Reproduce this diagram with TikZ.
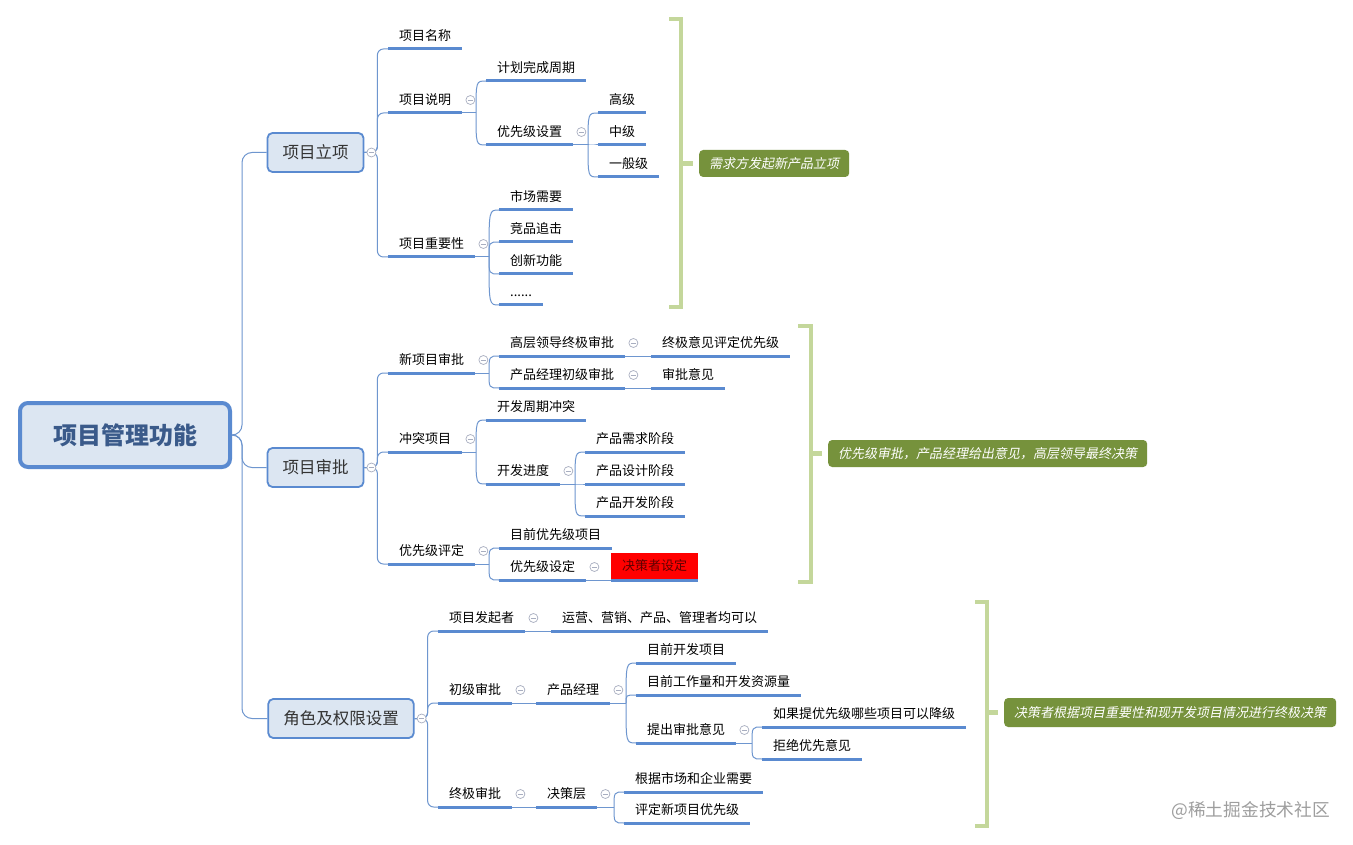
\documentclass[tikz,border=0pt]{standalone}
\usepackage{fontspec}
\setmainfont{Noto Sans CJK SC}
\newfontfamily\itcjk{Noto Sans CJK SC}[FakeSlant=0.2]
\usetikzlibrary{calc}
\definecolor{ublue}{HTML}{5A8AD0}
\definecolor{cline}{HTML}{6E96CF}
\definecolor{boxfill}{HTML}{DCE6F2}
\definecolor{boxdraw}{HTML}{5A8AD0}
\definecolor{roottext}{HTML}{3A5A8A}
\definecolor{brk}{HTML}{C4D79B}
\definecolor{callfill}{HTML}{76923C}
\definecolor{colgray}{HTML}{A8AEC0}
\definecolor{darkred}{HTML}{600000}
\newcommand\kids[3]{%
  \coordinate (j#1) at (#2,0 |- #1.south east);
  \draw[conn] (#1.south east) -- (j#1);
  \foreach \c in {#3} \draw[conn] (j#1) .. controls (j#1 |- \c.south west) .. (\c.south west);
}
\tikzset{
  topic/.style={anchor=south west, inner xsep=11pt, inner ysep=5pt, text height=10pt, text depth=3.5pt, font=\fontsize{13}{15}\selectfont, text=black},
  uline/.style={line width=3pt, ublue},
  conn/.style={cline, line width=1pt},
  lvl1/.style={draw=boxdraw, line width=1.8pt, fill=boxfill, rounded corners=5pt, minimum height=39pt, inner xsep=15pt, font=\fontsize{16.5}{18}\selectfont, text=black!80},
  rootbox/.style={draw=boxdraw, line width=4pt, fill=boxfill, rounded corners=8pt, minimum width=210pt, minimum height=64pt, font=\fontsize{24}{28}\selectfont\bfseries, text=roottext},
  collapse/.style={circle, draw=colgray, fill=white, line width=0.7pt, minimum size=9pt, inner sep=0pt, path picture={\draw[colgray, line width=0.7pt] ([xshift=-2.5pt]path picture bounding box.center) -- ([xshift=2.5pt]path picture bounding box.center);}},
  callout/.style={fill=callfill, rounded corners=4pt, text=white, font=\fontsize{13}{15}\selectfont\itcjk, inner xsep=10pt, minimum height=27pt, anchor=west},
  bracket/.style={brk, line width=4.5pt}
}
\begin{document}
\begin{tikzpicture}[x=1pt,y=-1pt]
\useasboundingbox[fill=white] (0,0) rectangle (1353,845);
% main nodes
\node[rootbox] (root) at (125,435) {项目管理功能};
\node[lvl1] (L1) at (315.5,152.5) {项目立项};
\node[lvl1] (L2) at (315.5,467.5) {项目审批};
\node[lvl1] (L3) at (341,718.5) {角色及权限设置};
% branch 1
\node[topic] (A1) at (388,49) {项目名称};
\node[topic] (A2) at (388,113) {项目说明};
\node[topic] (A21) at (486,81) {计划完成周期};
\node[topic] (A22) at (486,145) {优先级设置};
\node[topic] (A221) at (598,113) {高级};
\node[topic] (A222) at (598,145) {中级};
\node[topic] (A223) at (598,177) {一般级};
\node[topic] (A3) at (388,257) {项目重要性};
\node[topic] (A31) at (499,210) {市场需要};
\node[topic] (A32) at (499,242) {竞品追击};
\node[topic] (A33) at (499,274) {创新功能};
\node[topic] (A34) at (499,305) {......};
% branch 2
\node[topic] (B1) at (388,373) {新项目审批};
\node[topic] (B11) at (499,356) {高层领导终极审批};
\node[topic] (B111) at (651,356) {终极意见评定优先级};
\node[topic] (B12) at (499,388) {产品经理初级审批};
\node[topic] (B121) at (651,388) {审批意见};
\node[topic] (B2) at (388,452) {冲突项目};
\node[topic] (B21) at (486,420) {开发周期冲突};
\node[topic] (B22) at (486,484) {开发进度};
\node[topic] (B221) at (585,452) {产品需求阶段};
\node[topic] (B222) at (585,484) {产品设计阶段};
\node[topic] (B223) at (585,516) {产品开发阶段};
\node[topic] (B3) at (388,564) {优先级评定};
\node[topic] (B31) at (499,548) {目前优先级项目};
\node[topic] (B32) at (499,580) {优先级设定};
\node[topic, fill=red, text=darkred, minimum height=27pt, text height=11pt, text depth=2.5pt] (B321) at (611,580) {决策者设定};
% branch 3
\node[topic] (C1) at (438,631) {项目发起者};
\node[topic] (C11) at (551,631) {运营、营销、产品、管理者均可以};
\node[topic] (C2) at (438,703) {初级审批};
\node[topic] (C21) at (536,703) {产品经理};
\node[topic] (C211) at (636,663) {目前开发项目};
\node[topic] (C212) at (636,695) {目前工作量和开发资源量};
\node[topic] (C213) at (636,743) {提出审批意见};
\node[topic] (C2131) at (762,727) {如果提优先级哪些项目可以降级};
\node[topic] (C2132) at (762,759) {拒绝优先意见};
\node[topic] (C3) at (438,807) {终极审批};
\node[topic] (C31) at (536,807) {决策层};
\node[topic] (C311) at (624,792) {根据市场和企业需要};
\node[topic] (C312) at (624,823) {评定新项目优先级};
% underlines
\foreach \n in {A1,A2,A21,A22,A221,A222,A223,A3,A31,A32,A33,A34,
  B1,B11,B111,B12,B121,B2,B21,B22,B221,B222,B223,B3,B31,B32,B321,
  C1,C11,C2,C21,C211,C212,C213,C2131,C2132,C3,C31,C311,C312}
  \draw[uline] (\n.south west) -- (\n.south east);
% trunk
\foreach \b in {L1,L2,L3}
  \draw[conn, rounded corners=10pt] (root.east) -- ++(10,0) |- (\b.west);
\foreach \c in {A1,A2,A3}
  \draw[conn, rounded corners=6pt] (L1.east) -- ++(13,0) |- (\c.south west);
\foreach \c in {B1,B2,B3}
  \draw[conn, rounded corners=6pt] (L2.east) -- ++(13,0) |- (\c.south west);
\foreach \c in {C1,C2,C3}
  \draw[conn, rounded corners=6pt] (L3.east) -- ++(13,0) |- (\c.south west);
% curved children
\kids{A2}{476}{A21,A22}
\kids{A22}{588}{A221,A222,A223}
\kids{A3}{489}{A31,A32,A33,A34}
\kids{B1}{489}{B11,B12}
\kids{B2}{476}{B21,B22}
\kids{B22}{575}{B221,B222,B223}
\kids{B3}{489}{B31,B32}
\kids{C21}{626}{C211,C212,C213}
\kids{C213}{752}{C2131,C2132}
\kids{C31}{614}{C311,C312}
% straight children
\draw[conn] (B11.south east) -- (B111.south west);
\draw[conn] (B12.south east) -- (B121.south west);
\draw[conn] (B32.south east) -- (B321.south west);
\draw[conn] (C1.south east) -- (C11.south west);
\draw[conn] (C2.south east) -- (C21.south west);
\draw[conn] (C3.south east) -- (C31.south west);
% collapse markers
\node[collapse] (kL1) at ($(L1.east)+(7,0)$) {};
\node[collapse] (kL2) at ($(L2.east)+(7,0)$) {};
\node[collapse] (kL3) at ($(L3.east)+(7,0)$) {};
\foreach \n in {A2,A22,A3,B1,B11,B12,B2,B22,B3,B32,C1,C2,C21,C213,C3,C31}
  \node[collapse] (k\n) at ($(\n.south east)+(8,-13)$) {};
% brackets and callouts
\node[callout] (N1) at (699,163.5) {需求方发起新产品立项};
\node[callout] (N2) at (828,453.5) {优先级审批，产品经理给出意见，高层领导最终决策};
\node[callout, minimum height=29pt] (N3) at (1004,712.5) {决策者根据项目重要性和现开发项目情况进行终极决策};
\draw[bracket] (669,19) -- (681,19) -- (681,307) -- (669,307);
\draw[bracket] (798,326) -- (811,326) -- (811,582) -- (798,582);
\draw[bracket] (975,602) -- (987,602) -- (987,826) -- (975,826);
\coordinate (m1) at (681,163.5);
\coordinate (m2) at (811,453.5);
\coordinate (m3) at (987,712.5);
\draw[bracket] (m1) -- ([xshift=-6pt]N1.west);
\draw[bracket] (m2) -- ([xshift=-6pt]N2.west);
\draw[bracket] (m3) -- ([xshift=-6pt]N3.west);
% watermark
\node[text=black!38, font=\fontsize{17.7}{20}\selectfont, anchor=east, inner sep=0pt] (wm) at (1330,811) {@稀土掘金技术社区};
\end{tikzpicture}
\end{document}
